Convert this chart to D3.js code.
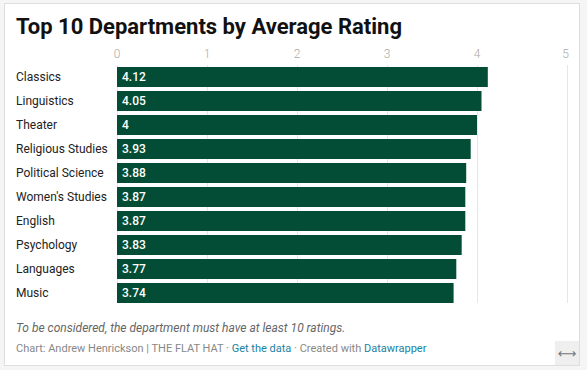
<!DOCTYPE html>
<html>
<head>
<meta charset="utf-8">
<script src="https://cdn.jsdelivr.net/npm/d3@7"></script>
<style>
  html, body { margin: 0; padding: 0; background: #f5f5f5; }
  svg { display: block; font-family: Roboto, "Noto Sans", sans-serif; }
</style>
</head>
<body>
<svg id="chart" width="587" height="370"></svg>
<script>
const departments = ["Classics", "Linguistics", "Theater", "Religious Studies", "Political Science",
  "Women's Studies", "English", "Psychology", "Languages", "Music"];
const ratings = [4.12, 4.05, 4, 3.93, 3.88, 3.87, 3.87, 3.83, 3.77, 3.74];
const tickValues = [0, 1, 2, 3, 4, 5];

const title = "Top 10 Departments by Average Rating";
const note = "To be considered, the department must have at least 10 ratings.";

const svg = d3.select("#chart");

// frame
svg.append("rect").attr("x", 4.5).attr("y", 3.5).attr("width", 575).attr("height", 362)
  .attr("fill", "#fff").attr("stroke", "#dedede");

svg.append("text").attr("x", 16).attr("y", 34)
  .attr("font-size", 22).attr("font-weight", 700).attr("fill", "#111")
  .text(title);

const x = d3.scaleLinear().domain([0, 5]).range([117, 567]);
const y = d3.scaleBand().domain(departments).range([65, 305]).paddingInner(1/6).paddingOuter(1/12);

// gridlines
svg.append("g").selectAll("line").data(tickValues).join("line")
  .attr("x1", d => x(d) + 0.5).attr("x2", d => x(d) + 0.5)
  .attr("y1", 65).attr("y2", 303)
  .attr("stroke", "#e6e6e6").attr("stroke-width", 1);

// tick labels
svg.append("g").selectAll("text").data(tickValues).join("text")
  .attr("x", d => x(d)).attr("y", 54).attr("dy", "0.35em")
  .attr("text-anchor", d => d === 5 ? "end" : "middle")
  .attr("dx", d => d === 5 ? 2 : 0)
  .attr("font-size", 12).attr("fill", "#aaa").attr("font-weight", 300)
  .text(d => d);

// bars
svg.append("g").selectAll("rect").data(departments).join("rect")
  .attr("x", x(0)).attr("y", d => y(d))
  .attr("width", (d, i) => x(ratings[i]) - x(0))
  .attr("height", y.bandwidth())
  .attr("fill", "#034d36");

// category labels
svg.append("g").selectAll("text").data(departments).join("text")
  .attr("x", 16).attr("y", d => y(d) + y.bandwidth() / 2).attr("dy", "0.35em")
  .attr("font-size", 12).attr("fill", "#222")
  .text(d => d);

// value labels
svg.append("g").selectAll("text").data(departments).join("text")
  .attr("x", x(0) + 5).attr("y", d => y(d) + y.bandwidth() / 2).attr("dy", "0.35em")
  .attr("font-size", 12).attr("font-weight", 500).attr("fill", "#fff")
  .text((d, i) => ratings[i]);

// note
svg.append("text").attr("x", 16).attr("y", 328).attr("dy", "0.35em")
  .attr("font-size", 12).attr("font-style", "italic").attr("fill", "#666")
  .text(note);

// credits
const credit = svg.append("text").attr("x", 16).attr("y", 348).attr("dy", "0.35em")
  .attr("font-size", 11).attr("fill", "#888");
credit.append("tspan").text("Chart: Andrew Henrickson | THE FLAT HAT · ");
credit.append("tspan").attr("fill", "#1d81a2").text("Get the data");
credit.append("tspan").text(" · Created with ");
credit.append("tspan").attr("fill", "#1d81a2").text("Datawrapper");

// resize icon box
svg.append("rect").attr("x", 555).attr("y", 341).attr("width", 24).attr("height", 24).attr("fill", "#efefef");
svg.append("text").attr("x", 567).attr("y", 353).attr("dy", "0.35em").attr("text-anchor", "middle")
  .attr("font-size", 13).attr("fill", "#777").attr("font-family", "DejaVu Sans").text("⟷");
</script>
</body>
</html>
